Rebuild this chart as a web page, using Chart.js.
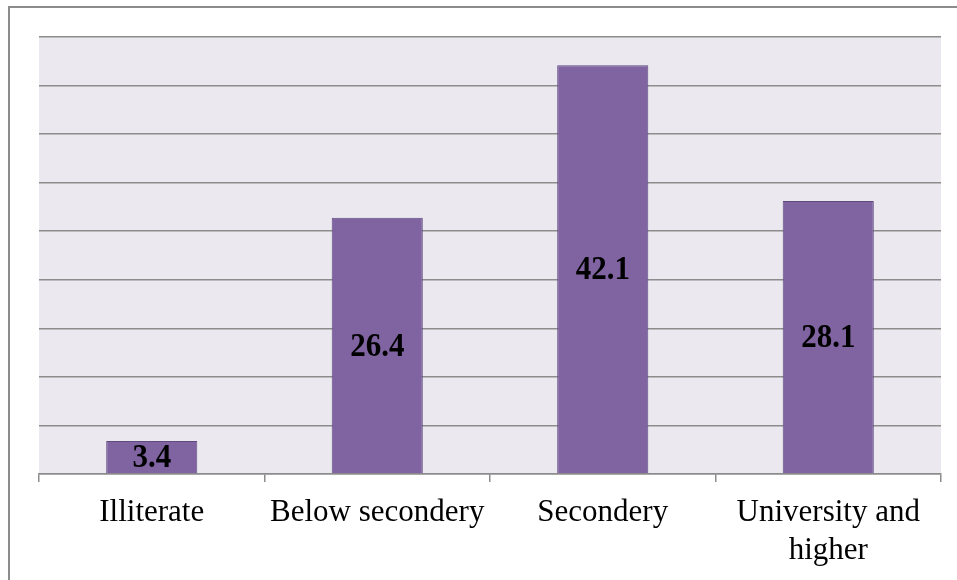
<!DOCTYPE html>
<html>
<head>
<meta charset="utf-8">
<script src="https://cdn.jsdelivr.net/npm/chart.js@4/dist/chart.umd.min.js"></script>
<style>
  html, body { margin: 0; padding: 0; background: #fff; overflow: hidden; }
  #wrap { position: relative; width: 957px; height: 580px; }
  #frame { position: absolute; left: 8px; top: 6px; width: 1100px; height: 800px;
           border: 2px solid #8c8c8c; box-sizing: border-box; }
  canvas { position: absolute; left: 0; top: 0; }
</style>
</head>
<body>
<div id="wrap">
  <div id="frame"></div>
  <canvas id="c" width="957" height="580"></canvas>
</div>
<script>
// Education level shares (%)
const categories = ['Illiterate', 'Below secondery', 'Secondery', ['University and', 'higher']];
const shares = [3.4, 26.4, 42.1, 28.1];
const yTicks = { min: 0, max: 45, step: 5 };

// Shaded plot background
const plotBackground = {
  id: 'plotBackground',
  beforeDraw(chart) {
    const { ctx, chartArea: a } = chart;
    ctx.save();
    ctx.fillStyle = '#ebe9ef';
    ctx.fillRect(a.left, a.top, a.right - a.left, a.bottom - a.top);
    ctx.restore();
  }
};

// Value written in the middle of each bar (slightly tall lettering)
const barValues = {
  id: 'barValues',
  afterDatasetsDraw(chart) {
    const { ctx } = chart;
    const meta = chart.getDatasetMeta(0);
    const stretch = 1.08;
    meta.data.forEach((bar, i) => {
      const mid = (bar.y + bar.base) / 2;
      ctx.save();
      ctx.translate(bar.x, mid + 1.5);
      ctx.scale(1, stretch);
      ctx.font = 'bold 31px "Liberation Serif", "Times New Roman", serif';
      ctx.fillStyle = '#000';
      ctx.textAlign = 'center';
      ctx.textBaseline = 'middle';
      ctx.fillText(String(shares[i]), 0, 0);
      ctx.restore();
    });
  }
};

new Chart(document.getElementById('c'), {
  type: 'bar',
  data: {
    labels: categories,
    datasets: [{
      data: shares,
      backgroundColor: '#8064a2',
      borderColor: '#5f4b80',
      borderWidth: 1,
      categoryPercentage: 1.0,
      barPercentage: 0.404
    }]
  },
  options: {
    responsive: false,
    animation: false,
    events: [],
    layout: { padding: { left: 39, right: 16, top: 37, bottom: 0 } },
    plugins: { legend: { display: false }, tooltip: { enabled: false } },
    scales: {
      x: {
        offset: true,
        grid: {
          offset: true,
          drawOnChartArea: false,
          drawTicks: true,
          tickLength: 8,
          color: '#8c8c8c',
          lineWidth: 1.5
        },
        border: { display: true, color: '#8c8c8c', width: 1.5 },
        ticks: {
          color: '#000',
          padding: 12,
          maxRotation: 0,
          autoSkip: false,
          font: { family: '"Liberation Serif", "Times New Roman", serif', size: 31, lineHeight: 1.23 }
        },
        afterFit(scale) { scale.height = 106; }
      },
      y: {
        min: yTicks.min,
        max: yTicks.max,
        ticks: { display: false, stepSize: yTicks.step },
        grid: { color: '#8c8c8c', lineWidth: 1.5, drawTicks: false },
        border: { display: false },
        afterFit(scale) { scale.width = 0; }
      }
    }
  },
  plugins: [plotBackground, barValues]
});
</script>
</body>
</html>
